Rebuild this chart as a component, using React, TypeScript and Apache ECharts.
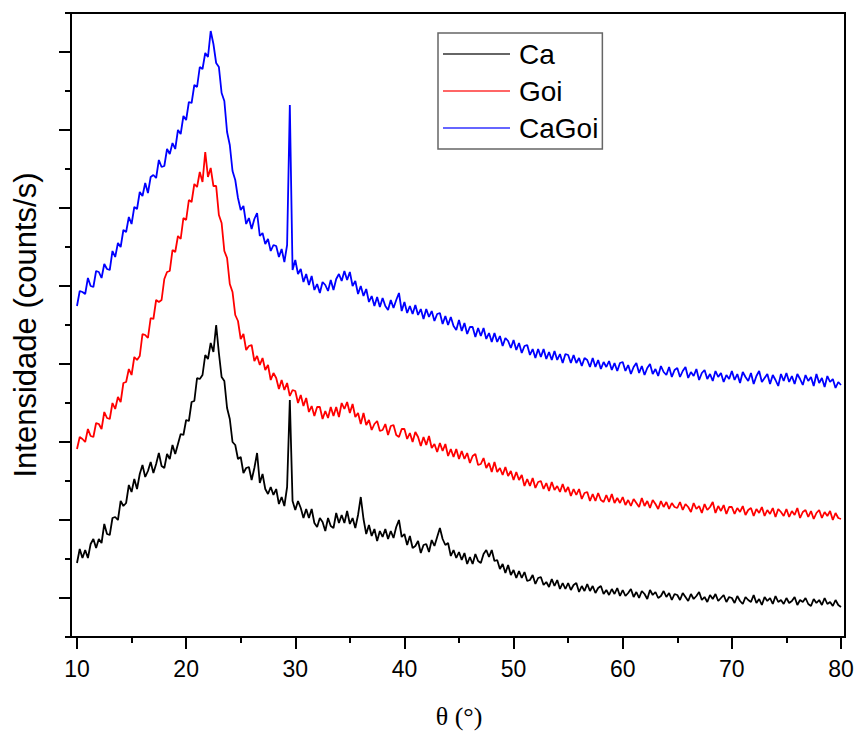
import React, { useEffect, useRef } from "react";
import * as echarts from "echarts";

// 2θ grid of the scans (start and step of the sampled points)
const THETA_START = 10;
const THETA_STEP = 0.25;

// Intensities (arbitrary counts/s scale), one value per 0.25° from 10° to 80°
const ca = [
  74, 88, 79, 87, 79, 93, 98, 89, 98, 94, 113, 103, 102, 119, 120, 117, 136, 131, 134, 152,
  145, 158, 148, 163, 172, 160, 166, 175, 164, 173, 184, 171, 169, 183, 178, 192, 183, 193, 203, 202,
  217, 216, 235, 236, 259, 258, 262, 282, 278, 294, 285, 312, 284, 260, 256, 229, 218, 195, 192, 178,
  180, 164, 169, 170, 157, 169, 184, 154, 163, 148, 143, 150, 142, 148, 133, 140, 131, 150, 237, 136,
  127, 136, 129, 119, 128, 119, 128, 114, 110, 119, 115, 106, 119, 111, 109, 124, 114, 122, 114, 126,
  113, 119, 109, 122, 140, 118, 103, 112, 101, 108, 96, 106, 100, 108, 98, 106, 99, 110, 117, 100,
  103, 92, 101, 89, 91, 96, 84, 92, 93, 85, 97, 91, 100, 109, 98, 92, 94, 81, 87, 79,
  85, 77, 84, 73, 80, 73, 83, 76, 74, 83, 87, 80, 87, 76, 77, 68, 73, 64, 72, 62,
  67, 59, 66, 59, 65, 56, 57, 62, 53, 59, 60, 52, 55, 50, 58, 51, 57, 48, 54, 48,
  54, 47, 52, 54, 45, 51, 46, 53, 46, 51, 44, 49, 51, 43, 47, 42, 48, 43, 49, 41,
  47, 41, 44, 48, 40, 45, 39, 46, 43, 38, 47, 42, 45, 39, 41, 46, 40, 44, 37, 43,
  42, 37, 44, 40, 36, 43, 38, 41, 45, 37, 40, 35, 42, 38, 43, 36, 39, 42, 35, 40,
  39, 34, 41, 36, 33, 40, 37, 35, 42, 34, 38, 32, 40, 36, 39, 33, 41, 35, 37, 33,
  39, 34, 36, 40, 32, 37, 35, 39, 33, 31, 38, 34, 37, 32, 39, 33, 35, 31, 37, 32, 30,
];

const goi = [
  188, 200, 198, 195, 208, 201, 200, 214, 213, 208, 225, 219, 218, 234, 228, 240, 235, 254, 255, 268,
  262, 280, 277, 281, 303, 302, 299, 319, 318, 337, 335, 337, 358, 365, 366, 387, 385, 401, 398, 419,
  417, 437, 435, 453, 450, 465, 455, 485, 460, 469, 451, 451, 422, 414, 386, 379, 353, 345, 322, 316,
  298, 303, 287, 291, 292, 276, 281, 272, 279, 267, 272, 257, 264, 259, 248, 257, 247, 254, 241, 247,
  246, 234, 242, 231, 239, 225, 231, 221, 230, 230, 218, 226, 219, 230, 221, 230, 220, 234, 228, 235,
  224, 233, 220, 224, 213, 224, 212, 217, 207, 213, 216, 206, 207, 213, 202, 211, 212, 202, 200, 208,
  208, 198, 204, 195, 205, 200, 191, 200, 192, 201, 189, 193, 185, 194, 186, 193, 181, 188, 180, 188,
  178, 186, 178, 184, 174, 181, 183, 172, 173, 179, 169, 174, 165, 175, 165, 169, 162, 170, 161, 166,
  157, 165, 157, 162, 151, 158, 151, 159, 149, 155, 156, 148, 154, 146, 155, 147, 151, 145, 153, 145,
  150, 141, 148, 142, 148, 138, 144, 145, 136, 143, 136, 144, 137, 135, 142, 135, 143, 134, 139, 134,
  140, 132, 137, 131, 138, 134, 130, 139, 131, 136, 129, 137, 133, 128, 136, 130, 135, 128, 134, 130,
  129, 135, 127, 133, 130, 125, 134, 128, 131, 124, 133, 127, 130, 135, 124, 131, 126, 132, 123, 130,
  130, 123, 129, 125, 131, 122, 127, 129, 121, 128, 124, 130, 121, 127, 123, 129, 120, 128, 125, 121,
  128, 120, 126, 122, 129, 119, 125, 127, 120, 126, 118, 124, 127, 119, 125, 121, 126, 117, 124, 119, 118,
];

const caGoi = [
  331, 346, 345, 343, 359, 351, 350, 366, 365, 359, 373, 368, 367, 386, 380, 394, 390, 407, 405, 420,
  413, 430, 428, 445, 441, 454, 444, 460, 462, 459, 477, 470, 471, 488, 483, 494, 488, 507, 503, 521,
  517, 535, 534, 552, 550, 570, 568, 584, 580, 606, 593, 574, 570, 544, 536, 505, 492, 466, 457, 439,
  427, 431, 413, 419, 408, 418, 424, 401, 404, 393, 398, 386, 392, 391, 380, 388, 375, 392, 532, 367,
  377, 363, 368, 355, 363, 352, 361, 347, 353, 344, 355, 352, 346, 357, 347, 358, 363, 356, 366, 357,
  365, 351, 356, 343, 351, 341, 348, 335, 341, 331, 340, 330, 339, 331, 327, 337, 329, 337, 344, 326,
  335, 324, 331, 323, 332, 322, 328, 318, 328, 320, 326, 316, 323, 324, 313, 321, 312, 320, 311, 307,
  317, 306, 314, 303, 310, 310, 300, 309, 301, 309, 298, 304, 295, 304, 295, 301, 291, 299, 296, 289,
  297, 287, 294, 284, 291, 292, 282, 288, 279, 288, 280, 288, 278, 285, 277, 286, 277, 283, 274, 283,
  282, 274, 282, 274, 279, 271, 279, 277, 270, 279, 270, 277, 268, 275, 270, 276, 267, 274, 266, 274,
  275, 266, 272, 263, 270, 274, 264, 271, 262, 269, 273, 263, 268, 261, 271, 265, 262, 270, 260, 267,
  269, 260, 266, 270, 259, 265, 261, 268, 257, 264, 267, 258, 263, 256, 266, 260, 264, 255, 262, 258,
  266, 257, 263, 254, 265, 260, 256, 264, 253, 261, 266, 255, 259, 263, 253, 262, 257, 251, 263, 256,
  264, 255, 261, 253, 263, 258, 252, 262, 256, 260, 251, 263, 254, 259, 250, 261, 255, 258, 249, 255, 252,
];

const seriesNames = ["Ca", "Goi", "CaGoi"];
const seriesColors = ["#000000", "#ff0000", "#0000ff"];
const legendColors = ["#666666", "#ff6666", "#6666ff"];

// axis ranges
const X_MIN = 10;
const X_MAX = 80;
const X_INTERVAL = 10;
const Y_MIN = 0;
const Y_MAX = 624;
const Y_INTERVAL = 78;

const SANS = '"Liberation Sans", Arial, Helvetica, sans-serif';
const SERIF = '"Liberation Serif", "Times New Roman", serif';

function toPairs(values: number[]) {
  return values.map((v, i) => [THETA_START + i * THETA_STEP, v]);
}

export default function App() {
  const ref = useRef<HTMLDivElement>(null);

  useEffect(() => {
    if (!ref.current) return;
    const chart = echarts.init(ref.current, undefined, { renderer: "svg" });
    const all = [ca, goi, caGoi];
    chart.setOption({
      animation: false,
      backgroundColor: "#ffffff",
      grid: {
        left: 77,
        right: 14,
        top: 13,
        bottom: 94,
        containLabel: false,
        outerBoundsMode: "none",
      },
      legend: {
        orient: "vertical",
        left: 438,
        top: 33,
        padding: [7, 4, 7, 5],
        itemGap: 9,
        itemWidth: 67,
        itemHeight: 2,
        icon: "rect",
        borderColor: "#666666",
        borderWidth: 1.5,
        backgroundColor: "#ffffff",
        textStyle: { fontSize: 28, fontFamily: SANS, color: "#000", padding: [0, 0, 0, 4] },
        data: seriesNames.map((n, i) => ({ name: n, itemStyle: { color: legendColors[i] } })),
      },
      xAxis: {
        type: "value",
        min: X_MIN,
        max: X_MAX,
        interval: X_INTERVAL,
        name: "θ (°)",
        nameLocation: "middle",
        nameGap: 66,
        nameTextStyle: { fontSize: 26, fontFamily: SERIF, color: "#000" },
        axisLine: { show: false },
        axisTick: { show: true, length: 12, lineStyle: { color: "#000", width: 2 } },
        minorTick: { show: true, splitNumber: 2, length: 6, lineStyle: { color: "#000", width: 2 } },
        axisLabel: { fontSize: 23, fontFamily: SANS, color: "#000", margin: 20 },
        splitLine: { show: false },
      },
      yAxis: {
        type: "value",
        min: Y_MIN,
        max: Y_MAX,
        interval: Y_INTERVAL,
        offset: 6,
        name: "Intensidade (counts/s)",
        nameLocation: "middle",
        nameGap: 30,
        nameTextStyle: { fontSize: 31, fontFamily: SANS, color: "#000" },
        axisLine: { show: false },
        axisTick: { show: true, length: 6, lineStyle: { color: "#000", width: 2 } },
        minorTick: { show: true, splitNumber: 2, length: 12, lineStyle: { color: "#000", width: 2 } },
        axisLabel: { show: false },
        splitLine: { show: false },
      },
      graphic: [
        {
          type: "rect",
          silent: true,
          z: 100,
          shape: { x: 71, y: 13, width: 774, height: 624 },
          style: { fill: "none", stroke: "#000", lineWidth: 2 },
        },
      ],
      series: all.map((vals, i) => ({
        name: seriesNames[i],
        type: "line",
        data: toPairs(vals),
        showSymbol: false,
        symbol: "none",
        lineStyle: { color: seriesColors[i], width: 1.8 },
        itemStyle: { color: seriesColors[i] },
        z: 2 + i,
      })),
    });
    return () => chart.dispose();
  }, []);

  return (
    <div
      ref={ref}
      style={{ position: "fixed", left: 0, top: 0, width: 855, height: 731, background: "#fff" }}
    />
  );
}
